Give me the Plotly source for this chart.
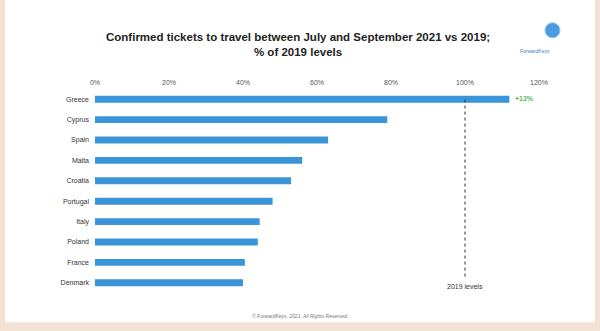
import plotly.graph_objects as go

countries = ["Greece", "Cyprus", "Spain", "Malta", "Croatia", "Portugal", "Italy", "Poland", "France", "Denmark"]
values = [112, 79, 63, 56, 53, 48, 44.5, 44, 40.5, 40]
tick_vals = [0, 20, 40, 60, 80, 100, 120]
tick_text = ["0%", "20%", "40%", "60%", "80%", "100%", "120%"]

W, H = 600, 331
L, R, T, B = 95, 61, 88.5, 37.5
pw, ph = W - L - R, H - T - B

def px(x):
    return (x - L) / pw

def py(y):
    return (H - B - y) / ph

fig = go.Figure()
fig.add_trace(go.Bar(
    x=values, y=countries, orientation="h",
    marker=dict(color="#3a95d8", line=dict(width=0)),
    width=0.34, hoverinfo="skip",
))

fig.update_layout(
    width=W, height=H,
    margin=dict(l=L, r=R, t=T, b=B),
    paper_bgcolor="#f3e1d3",
    plot_bgcolor="rgba(0,0,0,0)",
    showlegend=False,
    font=dict(family="Liberation Sans, Arial, sans-serif", color="#333333"),
    xaxis=dict(range=[0, 120], side="top", tickvals=tick_vals, ticktext=tick_text,
               showgrid=False, zeroline=False, showline=False, ticks="",
               ticklabelstandoff=2,
               tickfont=dict(size=7, color="#555555")),
    yaxis=dict(autorange="reversed", showgrid=False, zeroline=False, showline=False,
               ticks="", ticklabelstandoff=5, tickfont=dict(size=7, color="#333333")),
)

# white panel
fig.add_shape(type="rect", xref="paper", yref="paper", layer="below",
              x0=px(5), x1=px(595), y0=py(323), y1=py(-2),
              fillcolor="white", line=dict(width=0))

# 2019 levels dotted line
fig.add_shape(type="line", xref="x", yref="paper", x0=100, x1=100,
              y0=py(277), y1=py(96), line=dict(color="#333333", width=1, dash="dot"))

fig.add_annotation(x=100, y=py(281), xref="x", yref="paper", yanchor="top",
                   text="2019 levels",
                   showarrow=False, font=dict(size=7, color="#333333"))

fig.add_annotation(x=values[0], y=countries[0], xref="x", yref="y", text="<b>+12%</b>",
                   showarrow=False, xanchor="left", xshift=4, yshift=1,
                   font=dict(size=7, color="#5cb85c"))

# title
fig.add_annotation(x=px(298), y=py(28), xref="paper", yref="paper", yanchor="top",
                   text="<b>Confirmed tickets to travel between July and September 2021 vs 2019;<br>% of 2019 levels</b>",
                   showarrow=False, align="center",
                   font=dict(size=11.5, color="#222222"))

# logo
fig.add_shape(type="circle", xref="paper", yref="paper",
              x0=px(545), x1=px(560), y0=py(37), y1=py(22),
              fillcolor="#4a9be0", line=dict(color="#8cc4f0", width=1))
fig.add_annotation(x=px(552), y=py(45), xref="paper", yref="paper", text="ForwardKeys",
                   showarrow=False, font=dict(size=5, color="#3a7fc8"))

# footer
fig.add_annotation(x=px(300), y=py(312), xref="paper", yref="paper", yanchor="top",
                   text="<i>© ForwardKeys, 2021. All Rights Reserved.</i>",
                   showarrow=False, font=dict(size=5, color="#777777"))

fig.write_html("out.html")
